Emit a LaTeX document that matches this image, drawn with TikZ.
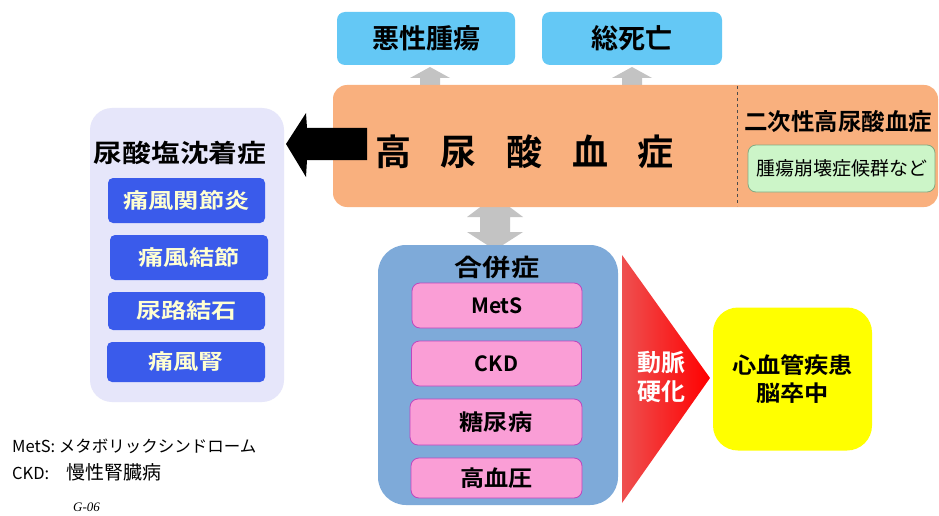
\documentclass[tikz,border=0pt]{standalone}
\usepackage{fontspec}
\usepackage{graphicx}
\setmainfont{Noto Sans CJK JP}[BoldFont={Noto Sans CJK JP Bold}]
\newfontfamily\gfont{Liberation Serif}
\newcommand{\hs}[2]{\scalebox{#1}[1]{#2}}
\definecolor{skyb}{RGB}{100,200,245}
\definecolor{grayarr}{RGB}{195,195,195}
\definecolor{peach}{RGB}{249,176,126}
\definecolor{lav}{RGB}{230,230,250}
\definecolor{royal}{RGB}{58,91,235}
\definecolor{cream}{RGB}{255,255,210}
\definecolor{steel}{RGB}{126,170,217}
\definecolor{pinkf}{RGB}{250,158,214}
\definecolor{pinkd}{RGB}{190,70,190}
\definecolor{mint}{RGB}{204,245,200}
\definecolor{mintd}{RGB}{130,170,130}
\definecolor{redl}{RGB}{238,80,80}
\definecolor{yel}{RGB}{255,255,0}
\tikzset{
  topbox/.style={fill=skyb,rounded corners=8pt,inner sep=0pt,font=\fontsize{27}{30}\selectfont\bfseries},
  bluebox/.style={fill=royal,rounded corners=5pt,inner sep=0pt,text=cream,font=\fontsize{21}{24}\selectfont\bfseries},
  pinkbox/.style={fill=pinkf,draw=pinkd,line width=0.8pt,rounded corners=8pt,inner sep=0pt,font=\fontsize{22}{24}\selectfont\bfseries},
  garrow/.style={fill=grayarr,draw=none},
}
\begin{document}
\begin{tikzpicture}[x=1pt,y=-1pt]
\useasboundingbox (0,0) rectangle (939,516);
\fill[white] (0,0) rectangle (939,516);

% gray arrows (behind boxes)
\fill[garrow] (430,67) -- (450,78) -- (440,78) -- (440,90) -- (420,90) -- (420,78) -- (410,78) -- cycle;
\fill[garrow] (632,67) -- (652,78) -- (642,78) -- (642,90) -- (622,90) -- (622,78) -- (612,78) -- cycle;
\fill[garrow] (495,196) -- (523,217) -- (510,217) -- (510,232) -- (523,232) -- (495,250) -- (467,232) -- (480,232) -- (480,217) -- (467,217) -- cycle;

% top boxes
\node[topbox,minimum width=178,minimum height=53] (mal) at (426,38.5) {悪性腫瘍};
\node[topbox,minimum width=180,minimum height=53] (death) at (632,38.5) {総死亡};

% hyperuricemia box
\node[fill=peach,rounded corners=14pt,minimum width=605,minimum height=122,inner sep=0pt] (hyper) at (635.5,146) {};
\draw[dashed,line width=0.6pt,black!70] (737,86) -- (737,206);
\node[font=\fontsize{36}{40}\selectfont\bfseries,inner sep=0pt] (htext) at (524.5,152)
  {高\hspace{29.75pt}尿\hspace{29.75pt}酸\hspace{29.75pt}血\hspace{29.75pt}症};
\node[font=\fontsize{23.5}{26}\selectfont\bfseries,inner sep=0pt] (sec) at (838,122) {二次性高尿酸血症};
\node[fill=mint,draw=mintd,line width=0.8pt,rounded corners=8pt,minimum width=187,minimum height=47,inner sep=0pt,
  font=\fontsize{19}{22}\selectfont] (tls) at (841.5,168.5) {腫瘍崩壊症候群など};

% left panel
\node[fill=lav,rounded corners=22pt,minimum width=194,minimum height=294,inner sep=0pt] (dep) at (187,255) {};
\node[font=\fontsize{25}{28}\selectfont\bfseries,inner sep=0pt] (deptitle) at (180,153) {\hs{1.15}{尿酸塩沈着症}};
\node[bluebox,minimum width=157,minimum height=45] (b1) at (186.5,200.5) {\hs{1.2}{痛風関節炎}};
\node[bluebox,minimum width=158,minimum height=45] (b2) at (189,257.5) {\hs{1.2}{痛風結節}};
\node[bluebox,minimum width=157,minimum height=38] (b3) at (186.5,311) {\hs{1.2}{尿路結石}};
\node[bluebox,minimum width=158,minimum height=40] (b4) at (186,362) {\hs{1.2}{痛風腎}};

% black arrow
\fill[black] (286,144) -- (306,113) -- (307,128) -- (367,128) -- (367,160) -- (307,160) -- (306,177) -- cycle;

% complications
\node[fill=steel,rounded corners=28pt,minimum width=240,minimum height=260,inner sep=0pt] (comp) at (498,375) {};
\node[font=\fontsize{24}{28}\selectfont\bfseries,inner sep=0pt] (comptitle) at (497,267) {\hs{1.17}{合併症}};
\node[pinkbox,minimum width=170,minimum height=45,font=\fontsize{21}{24}\selectfont\bfseries] (mets) at (497,305.5) {MetS};
\node[pinkbox,minimum width=170,minimum height=45,font=\fontsize{21}{24}\selectfont\bfseries] (ckd) at (496.5,363.5) {CKD};
\node[pinkbox,minimum width=172,minimum height=46] (dm) at (496,422) {\hs{1.1}{糖尿病}};
\node[pinkbox,minimum width=171,minimum height=40] (htn) at (496.5,478) {\hs{1.1}{高血圧}};

% atherosclerosis triangle
\shade[left color=redl,right color=red] (622,255) -- (710,378) -- (622,503) -- cycle;
\node[text=white,align=center,font=\fontsize{24}{29}\selectfont\bfseries,inner sep=0pt] (ath) at (661,377) {動脈\\硬化};

% CVD box
\node[fill=yel,rounded corners=25pt,minimum width=159,minimum height=143,inner sep=0pt,align=center,
  font=\fontsize{22}{28}\selectfont\bfseries] (cvd) at (792.5,379) {\hs{1.1}{心血管疾患}\\\hs{1.1}{脳卒中}};

% notes
\node[anchor=west,inner sep=0pt,font=\fontsize{16.5}{18}\selectfont] (n1) at (12,446) {MetS: メタボリックシンドローム};
\node[anchor=west,inner sep=0pt,font=\fontsize{16.5}{18}\selectfont] (n2) at (12,472) {CKD:\hspace{17pt}{\fontsize{19}{20}\selectfont 慢性腎臓病}};
\node[anchor=west,inner sep=0pt,font=\gfont\itshape\fontsize{13}{14}\selectfont] (g06) at (73,507) {G-06};
\end{tikzpicture}
\end{document}
